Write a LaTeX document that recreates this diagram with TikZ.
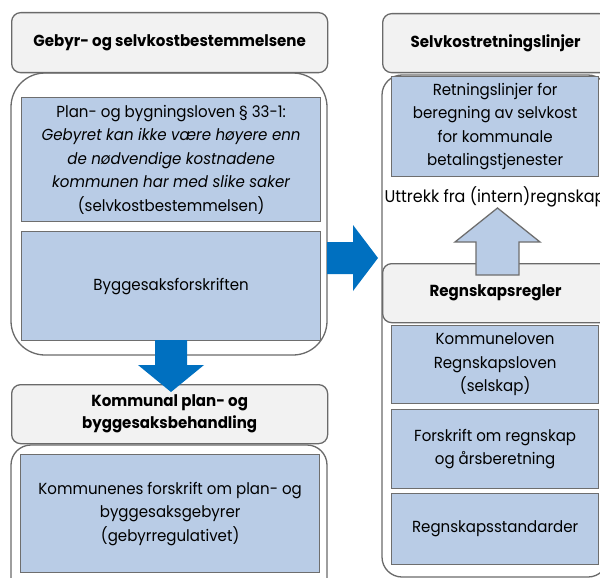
\documentclass[tikz,border=0pt]{standalone}
\usepackage{fontspec}
\setmainfont{Poppins}[FakeStretch=0.94]
\definecolor{hdrfill}{HTML}{F2F2F2}
\definecolor{hdrline}{HTML}{6A6A6A}
\definecolor{boxfill}{HTML}{B9CCE6}
\definecolor{boxline}{HTML}{6E6E6E}
\definecolor{arrowblue}{HTML}{0070C0}
\begin{document}
\begin{tikzpicture}[x=1pt,y=-1pt,
  hdr/.style={draw=hdrline, fill=hdrfill, line width=1.3pt, rounded corners=9pt,
    font=\fontsize{16}{22}\selectfont\bfseries, align=center, inner sep=0pt, anchor=north west},
  cont/.style={draw=hdrline, fill=white, line width=1.3pt},
  bluebox/.style={draw=boxline, fill=boxfill, line width=1.3pt,
    font=\fontsize{16}{23.5}\selectfont, align=center, inner sep=0pt, anchor=north west},
  plain/.style={font=\fontsize{17}{23.5}\selectfont, inner sep=0pt},
  bigarrow/.style={fill=arrowblue, draw=none},
  uparrow/.style={fill=boxfill, draw=boxline, line width=1.3pt, line join=miter}
]
\useasboundingbox (0,0) rectangle (600,578);
\clip (0,0) rectangle (600,578);

% containers
\draw[cont, rounded corners=34pt] (11,73) rectangle (327,355);
\draw[cont, rounded corners=20pt] (11,445) rectangle (327,610);
\draw[cont, rounded corners=20pt] (382,75) rectangle (608,577);

% left column
\node[hdr, minimum width=316pt, minimum height=60pt] (h1) at (11,12) {Gebyr- og selvkostbestemmelsene};
\node[bluebox, minimum width=299pt, minimum height=124pt] (b1) at (21,97)
  {Plan- og bygningsloven § 33-1:\\ \itshape Gebyret kan ikke være høyere enn\\ \itshape de nødvendige kostnadene\\ \itshape kommunen har med slike saker\\ (selvkostbestemmelsen)};
\node[bluebox, minimum width=299pt, minimum height=109pt] (b2) at (21,231) {Byggesaksforskriften};
\node[hdr, minimum width=316pt, minimum height=59pt] (h2) at (11,384) {Kommunal plan- og\\ byggesaksbehandling};
\node[bluebox, minimum width=299pt, minimum height=118pt] (b3) at (20,454)
  {Kommunenes forskrift om plan- og\\ byggesaksgebyrer\\ (gebyrregulativet)};

% right column
\node[hdr, minimum width=226pt, minimum height=59pt] (h3) at (382,13) {Selvkostretningslinjer};
\node[bluebox, minimum width=207pt, minimum height=100pt] (r1) at (391,76)
  {Retningslinjer for\\ beregning av selvkost\\ for kommunale\\ betalingstjenester};
\node[plain] (ut) at (495,197) {Uttrekk fra (intern)regnskap};
\node[hdr, minimum width=226pt, minimum height=59pt] (h4) at (382,263) {Regnskapsregler};
\node[bluebox, minimum width=207pt, minimum height=78pt] (r2) at (391,325)
  {Kommuneloven\\ Regnskapsloven\\ (selskap)};
\node[bluebox, minimum width=207pt, minimum height=79pt] (r3) at (391,409)
  {Forskrift om regnskap\\ og årsberetning};
\node[bluebox, minimum width=207pt, minimum height=71pt] (r4) at (391,493) {Regnskapsstandarder};

% block arrows
\fill[bigarrow] (327,242) -- (353,242) -- (353,225) -- (378,258) -- (353,291) -- (353,274) -- (327,274) -- cycle;
\fill[bigarrow] (155,340) -- (187,340) -- (187,365) -- (204,365) -- (171,392) -- (138,365) -- (155,365) -- cycle;
\draw[uparrow] (476,275) -- (476,242) -- (455,242) -- (497.5,208) -- (540,242) -- (519,242) -- (519,275) -- cycle;
\end{tikzpicture}
\end{document}
